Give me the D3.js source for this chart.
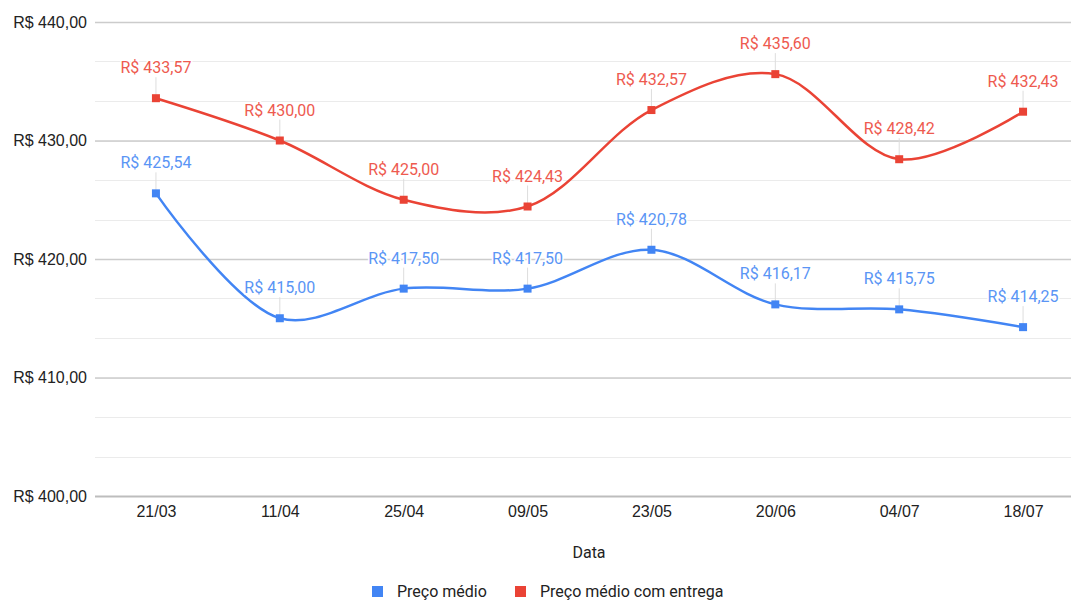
<!DOCTYPE html>
<html>
<head>
<meta charset="utf-8">
<script src="https://cdn.jsdelivr.net/npm/d3@7"></script>
<style>
body{margin:0;background:#fff;}
svg{display:block;font-family:Roboto,Arial,sans-serif;}
</style>
</head>
<body>
<div id="chart"></div>
<script>
// dados
var datas=["21/03","11/04","25/04","09/05","23/05","20/06","04/07","18/07"];
var precoMedio=[425.54,415.00,417.50,417.50,420.78,416.17,415.75,414.25];
var precoEntrega=[433.57,430.00,425.00,424.43,432.57,435.60,428.42,432.43];
var yTicks=[400,410,420,430,440];
var series=[
	{nome:"Preço médio",valores:precoMedio,cor:"#4285f4",texto:"#5a95f5"},
	{nome:"Preço médio com entrega",valores:precoEntrega,cor:"#ea4335",texto:"#ee5a4f"}
];

var width=1071,height=601;
var svg=d3.select("#chart").append("svg")
	.attr("width",width)
	.attr("height",height);

var x=d3.scalePoint().domain(datas).range([94,1085]).padding(0.5);
var y=d3.scaleLinear().domain([400,440]).range([496,22]);

function brl(v){
	return "R$ "+v.toFixed(2).replace(".",",");
}

//linhas de grade (menores)
var menores=d3.range(400,440.01,10/3);
svg.append("g").selectAll("line").data(menores).enter().append("line")
	.attr("x1",95).attr("x2",1071)
	.attr("y1",function(d){return Math.round(y(d))+0.5;})
	.attr("y2",function(d){return Math.round(y(d))+0.5;})
	.attr("stroke","#ebebeb").attr("stroke-width",1);

//eixo y
var yAxis=d3.axisLeft(y).tickValues(yTicks).tickSize(-976).tickFormat(brl);
var gy=svg.append("g").attr("transform","translate(95,0)").call(yAxis);
gy.select(".domain").remove();
gy.selectAll(".tick line").attr("stroke","#cccccc").attr("stroke-width",1.5);
gy.selectAll(".tick text").attr("x",-8).attr("fill","#222").style("font-size","16px");
gy.select(".tick:first-of-type line").attr("stroke","#bdbdbd").attr("stroke-width",2);

//eixo x
var xAxis=d3.axisBottom(x).tickSize(0).tickPadding(10);
var gx=svg.append("g").attr("transform","translate(0,496)").call(xAxis);
gx.select(".domain").remove();
gx.selectAll(".tick text").attr("fill","#222").style("font-size","16px");

svg.append("text").attr("x",589).attr("y",558).attr("text-anchor","middle")
	.attr("fill","#222").style("font-size","16px").text("Data");

var linha=d3.line()
	.x(function(d,i){return x(datas[i]);})
	.y(function(d){return y(d);})
	.curve(d3.curveCatmullRom.alpha(0.5));

series.forEach(function(s){
	var g=svg.append("g");
	// guias dos rótulos
	g.selectAll("line.guia").data(s.valores).enter().append("line")
		.attr("class","guia")
		.attr("x1",function(d,i){return x(datas[i]);})
		.attr("x2",function(d,i){return x(datas[i]);})
		.attr("y1",function(d){return y(d)-21;})
		.attr("y2",function(d){return y(d);})
		.attr("stroke","#dddddd").attr("stroke-width",1);
	g.append("path").datum(s.valores)
		.attr("d",linha)
		.attr("fill","none")
		.attr("stroke",s.cor)
		.attr("stroke-width",2.5);
	g.selectAll("rect").data(s.valores).enter().append("rect")
		.attr("x",function(d,i){return x(datas[i])-4;})
		.attr("y",function(d){return y(d)-4;})
		.attr("width",8).attr("height",8)
		.attr("fill",s.cor);
	g.selectAll("text").data(s.valores).enter().append("text")
		.attr("x",function(d,i){return x(datas[i]);})
		.attr("y",function(d){return y(d)-25;})
		.attr("text-anchor","middle")
		.attr("fill",s.texto)
		.attr("stroke","#fff").attr("stroke-width",3).attr("paint-order","stroke")
		.style("font-size","16px")
		.text(function(d){return brl(d);});
});

//legenda
var leg=svg.append("g").attr("transform","translate(0,592)");
var posLeg=[372,515];
series.forEach(function(s,i){
	leg.append("rect").attr("x",posLeg[i]).attr("y",-6).attr("width",11).attr("height",11).attr("fill",s.cor);
	leg.append("text").attr("x",posLeg[i]+25).attr("y",5).attr("fill","#222")
		.style("font-size","16px").text(s.nome);
});
</script>
</body>
</html>
